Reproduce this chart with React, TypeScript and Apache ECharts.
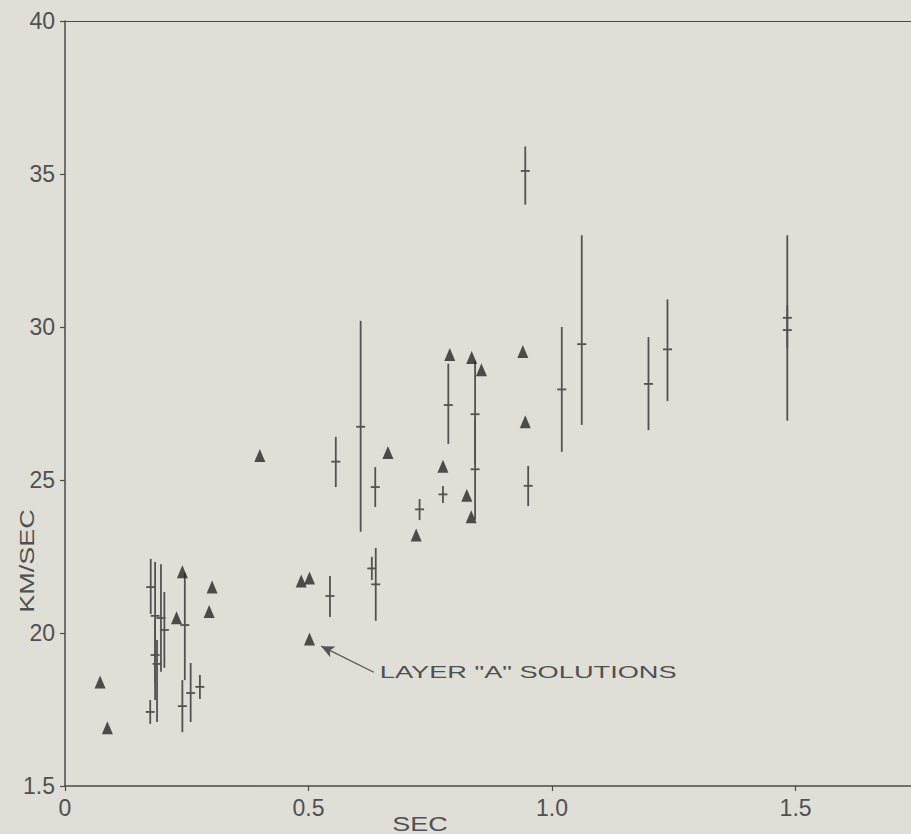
import React, { useEffect, useRef } from "react";
import * as echarts from "echarts";

// Layer "A" solutions (triangles)
const triX = [0.072, 0.087, 0.229, 0.241, 0.296, 0.302, 0.40, 0.485, 0.502, 0.502, 0.663, 0.721, 0.776, 0.79, 0.825, 0.834, 0.835, 0.855, 0.94, 0.945];
const triY = [1.84, 1.69, 2.05, 2.20, 2.07, 2.15, 2.58, 2.17, 2.18, 1.98, 2.59, 2.32, 2.545, 2.91, 2.45, 2.38, 2.90, 2.86, 2.92, 2.69];

// Error-bar estimates: x, central value, low, high
const barX = [0.176, 0.175, 0.185, 0.185, 0.189, 0.197, 0.204, 0.246, 0.241, 0.258, 0.277, 0.544, 0.607, 0.556, 0.637, 0.630, 0.638, 0.776, 0.728, 0.787, 0.842, 0.842, 0.951, 1.020, 1.061, 1.198, 1.237, 1.483, 1.483, 0.945];
const barC = [2.15, 1.742, 2.056, 1.928, 1.899, 2.049, 2.010, 2.026, 1.761, 1.804, 1.824, 2.121, 2.674, 2.560, 2.477, 2.211, 2.159, 2.453, 2.404, 2.745, 2.715, 2.535, 2.481, 2.796, 2.944, 2.814, 2.927, 3.03, 2.99, 3.51];
const barLo = [2.062, 1.703, 1.837, 1.781, 1.709, 1.873, 1.886, 1.846, 1.676, 1.709, 1.784, 2.052, 2.331, 2.477, 2.412, 2.173, 2.04, 2.425, 2.369, 2.618, 2.55, 2.37, 2.415, 2.592, 2.68, 2.663, 2.758, 2.694, 2.93, 3.40];
const barHi = [2.242, 1.781, 2.232, 2.043, 1.977, 2.225, 2.134, 2.196, 1.846, 1.902, 1.863, 2.186, 3.02, 2.641, 2.542, 2.249, 2.278, 2.480, 2.438, 2.88, 2.89, 2.70, 2.546, 3.0, 3.30, 2.967, 3.09, 3.30, 3.07, 3.59];

const xTickValues = [0, 0.5, 1.0, 1.5];
const xTickLabels = ["0", "0.5", "1.0", "1.5"];
const yTickValues = [1.5, 2.0, 2.5, 3.0, 3.5, 4.0];
const yTickLabels = ["1.5", "20", "25", "30", "35", "40"];

const arrowFrom = [0.634, 1.872];
const arrowTo = [0.526, 1.957];
const annotationText = 'LAYER "A" SOLUTIONS';

const INK = "#4a4a48";
const FONT = "'Liberation Sans', 'DejaVu Sans', sans-serif";

export default function App() {
  const ref = useRef<HTMLDivElement>(null);
  useEffect(() => {
    if (!ref.current) return;
    const chart = echarts.init(ref.current, undefined, { renderer: "svg" });
    const barData = barX.map((x, i) => [x, barC[i], barLo[i], barHi[i]]);
    const labelFor = (vals: number[], labels: string[]) => (v: number) => {
      const i = vals.findIndex((t) => Math.abs(t - v) < 1e-6);
      return i >= 0 ? labels[i] : "";
    };
    chart.setOption({
      animation: false,
      backgroundColor: "#dfdfd7",
      grid: { left: 65, right: 0, top: 21, bottom: 48 },
      xAxis: [
        {
          type: "value",
          min: 0,
          max: 1.737,
          interval: 0.5,
          axisLine: { show: true, onZero: false, lineStyle: { color: INK, width: 1.5 } },
          axisTick: { show: true, length: 5, lineStyle: { color: INK, width: 1.2 } },
          splitLine: { show: false },
          axisLabel: {
            formatter: labelFor(xTickValues, xTickLabels),
            color: "#505050",
            fontSize: 23,
            fontFamily: FONT,
            margin: 10,
            showMaxLabel: false,
          },
        },
        {
          type: "value",
          position: "top",
          min: 0,
          max: 1.737,
          axisLine: { show: true, onZero: false, lineStyle: { color: INK, width: 1.2 } },
          axisTick: { show: false },
          axisLabel: { show: false },
          splitLine: { show: false },
        },
      ],
      yAxis: {
        type: "value",
        min: 1.5,
        max: 4.0,
        interval: 0.5,
        axisLine: { show: true, onZero: false, lineStyle: { color: INK, width: 1.5 } },
        axisTick: { show: true, length: 5, lineStyle: { color: INK, width: 1.2 } },
        splitLine: { show: false },
        axisLabel: {
          formatter: labelFor(yTickValues, yTickLabels),
          color: "#505050",
          fontSize: 23,
          fontFamily: FONT,
          margin: 10,
        },
      },
      series: [
        {
          type: "custom",
          name: "estimates",
          data: barData,
          encode: { x: 0, y: [1, 2, 3] },
          renderItem: (params: any, api: any) => {
            const x = api.value(0);
            const c = api.value(1);
            const lo = api.value(2);
            const hi = api.value(3);
            const pLo = api.coord([x, lo]);
            const pHi = api.coord([x, hi]);
            const pC = api.coord([x, c]);
            return {
              type: "group",
              children: [
                {
                  type: "line",
                  shape: { x1: pLo[0], y1: pLo[1], x2: pHi[0], y2: pHi[1] },
                  style: { stroke: "#525250", lineWidth: 1.8 },
                },
                {
                  type: "line",
                  shape: { x1: pC[0] - 4.5, y1: pC[1], x2: pC[0] + 4.5, y2: pC[1] },
                  style: { stroke: "#525250", lineWidth: 1.8 },
                },
              ],
            };
          },
          z: 2,
        },
        {
          type: "scatter",
          name: 'Layer "A"',
          data: triX.map((x, i) => [x, triY[i]]),
          symbol: "triangle",
          symbolSize: [11, 13],
          itemStyle: { color: "#262624" },
          z: 3,
          markLine: {
            silent: true,
            symbol: ["none", "arrow"],
            symbolSize: [9, 13],
            lineStyle: { color: "#555553", width: 1.2, type: "solid" },
            label: { show: false },
            data: [[{ coord: arrowFrom }, { coord: arrowTo }]],
          },
        },
      ],
    });
    const p = chart.convertToPixel({ gridIndex: 0 }, arrowFrom) as number[];
    chart.setOption({
      graphic: [
        {
          type: "text",
          x: 27,
          y: 561,
          rotation: Math.PI / 2,
          scaleX: 1.35,
          style: {
            text: "KM/SEC",
            fill: "#505050",
            font: `20px ${FONT}`,
            textAlign: "center",
            textVerticalAlign: "middle",
          },
        },
        {
          type: "text",
          x: 420,
          y: 824,
          scaleX: 1.35,
          style: {
            text: "SEC",
            fill: "#505050",
            font: `20px ${FONT}`,
            textAlign: "center",
            textVerticalAlign: "middle",
          },
        },
        {
          type: "text",
          x: p[0] + 6,
          y: p[1],
          scaleX: 1.6,
          style: {
            text: annotationText,
            fill: "#505050",
            font: `17px ${FONT}`,
            textAlign: "left",
            textVerticalAlign: "middle",
          },
        },
      ],
    });
    return () => chart.dispose();
  }, []);
  return (
    <div
      ref={ref}
      style={{ position: "absolute", left: 0, top: 0, width: 911, height: 834 }}
    />
  );
}
